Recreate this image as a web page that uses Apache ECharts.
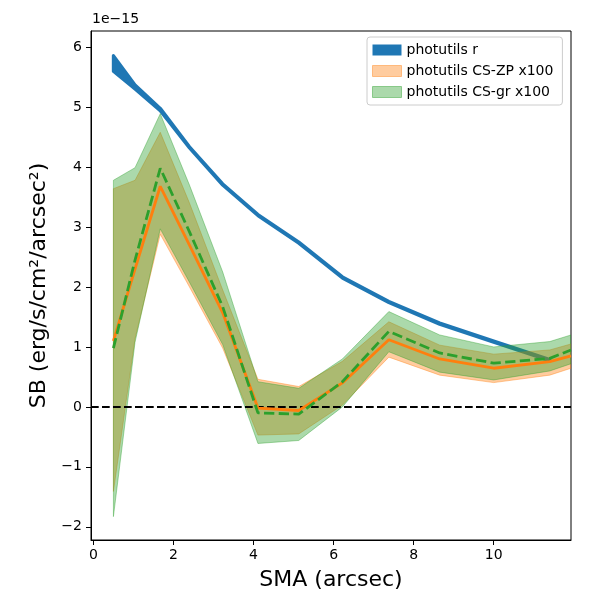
<!DOCTYPE html>
<html>
<head>
<meta charset="utf-8">
<script src="https://cdn.jsdelivr.net/npm/echarts@6/dist/echarts.min.js"></script>
<style>html,body{margin:0;padding:0;background:#fff}#c{width:600px;height:600px}</style>
</head>
<body>
<div id="c"></div>
<script>
// SMA positions (arcsec)
const smaR  = [0.5, 1.04, 1.67, 2.4, 3.23, 4.11, 5.13, 6.22, 7.38, 8.65, 10.0, 11.4];
const smaCS = [0.5, 1.04, 1.67, 2.4, 3.23, 4.11, 5.13, 6.22, 7.38, 8.65, 10.0, 11.4, 11.93];
// photutils r band (units of 1e-15)
const rHi = [5.86, 5.37, 4.98, 4.34, 3.72, 3.21, 2.75, 2.17, 1.76, 1.40, 1.10, 0.79];
const rLo = [5.60, 5.30, 4.94, 4.32, 3.70, 3.19, 2.73, 2.15, 1.74, 1.38, 1.08, 0.77];
// photutils CS-ZP x100
const zpMid = [1.10, 2.30, 3.68, 2.70, 1.57, -0.02, -0.06, 0.40, 1.12, 0.80, 0.645, 0.755, 0.85];
const zpHi  = [3.64, 3.78, 4.58, 3.40, 1.95, 0.46, 0.34, 0.76, 1.42, 1.03, 0.88, 0.95, 1.05];
const zpLo  = [-1.41, 1.14, 2.88, 2.00, 0.98, -0.47, -0.45, 0.03, 0.83, 0.53, 0.405, 0.53, 0.645];
// photutils CS-gr x100
const grMid = [0.98, 2.45, 3.98, 2.92, 1.67, -0.10, -0.12, 0.42, 1.26, 0.90, 0.73, 0.81, 0.95];
const grHi  = [3.78, 3.99, 4.89, 3.70, 2.25, 0.42, 0.31, 0.80, 1.59, 1.20, 1.00, 1.09, 1.20];
const grLo  = [-1.83, 1.08, 2.97, 2.08, 1.04, -0.61, -0.56, 0.00, 0.92, 0.58, 0.45, 0.60, 0.72];
// ticks
const xTicks = [0, 2, 4, 6, 8, 10];
const yTicks = [-2, -1, 0, 1, 2, 3, 4, 5, 6];

const FONT = 'DejaVu Sans';
function band(xs, hi, lo, fill, stroke, lw) {
  return function (params, api) {
    if (params.dataIndex !== 0) return;
    const pts = [];
    for (let i = 0; i < xs.length; i++) pts.push(api.coord([xs[i], hi[i]]));
    for (let i = xs.length - 1; i >= 0; i--) pts.push(api.coord([xs[i], lo[i]]));
    return {type: 'polygon', shape: {points: pts},
      style: {fill: fill, stroke: stroke, lineWidth: lw, lineJoin: 'round'}};
  };
}
const pairs = (xs, ys) => xs.map((x, i) => [x, ys[i]]);
const fmt = v => v < 0 ? '\u2212' + Math.abs(v) : String(v);

const chart = echarts.init(document.getElementById('c'), null, {renderer: 'canvas'});
chart.setOption({
  animation: false,
  backgroundColor: '#fff',
  textStyle: {fontFamily: FONT},
  grid: {left: 91, right: 29, top: 31, bottom: 60, show: true, borderColor: '#000', borderWidth: 1,
         containLabel: false, outerBoundsMode: 'none'},
  xAxis: {
    type: 'value', min: -0.06, max: 11.93,
    name: 'SMA (arcsec)', nameLocation: 'middle', nameGap: 29,
    nameTextStyle: {fontSize: 22, color: '#000', fontFamily: FONT},
    axisLine: {show: true, onZero: false, lineStyle: {color: '#000', width: 1}},
    axisTick: {show: true, length: 5, lineStyle: {color: '#000'}, customValues: xTicks},
    axisLabel: {color: '#000', fontSize: 14, margin: 8, fontFamily: FONT, customValues: xTicks, formatter: fmt},
    splitLine: {show: false}
  },
  yAxis: {
    type: 'value', min: -2.22, max: 6.27,
    name: 'SB (erg/s/cm²/arcsec²)', nameLocation: 'middle', nameGap: 40,
    nameTextStyle: {fontSize: 22, color: '#000', fontFamily: FONT},
    axisLine: {show: true, onZero: false, lineStyle: {color: '#000', width: 1}},
    axisTick: {show: true, length: 5, lineStyle: {color: '#000'}, customValues: yTicks},
    axisLabel: {color: '#000', fontSize: 14, margin: 9, fontFamily: FONT, customValues: yTicks, formatter: fmt},
    splitLine: {show: false}
  },
  legend: {
    orient: 'vertical', left: 367, top: 37,
    padding: [6, 9, 6, 5], itemGap: 7, itemWidth: 29, itemHeight: 11, itemTextGap: 11,
    backgroundColor: 'rgba(255,255,255,0.8)', borderColor: '#cccccc', borderWidth: 1, borderRadius: 3,
    textStyle: {fontSize: 14, color: '#000', fontFamily: FONT, lineHeight: 14},
    icon: 'rect',
    data: [
      {name: 'photutils r', itemStyle: {color: '#1f77b4'}},
      {name: 'photutils CS-ZP x100', itemStyle: {color: '#ffcc9f', borderColor: '#ffb97c', borderWidth: 1}},
      {name: 'photutils CS-gr x100', itemStyle: {color: '#abd9ab', borderColor: '#88c988', borderWidth: 1}}
    ]
  },
  graphic: [{type: 'text', left: 92, top: 12, style: {text: '1e\u221215', fontSize: 14, fontFamily: FONT, fill: '#000'}}],
  series: [
    {type: 'custom', name: 'photutils r', z: 2, itemStyle: {color: '#1f77b4'},
     renderItem: band(smaR, rHi, rLo, '#1f77b4', '#1f77b4', 3.2),
     data: [[smaR[0], rHi[0]]], encode: {x: 0, y: 1}, clip: true},
    {type: 'custom', name: 'photutils CS-ZP x100', z: 3, itemStyle: {color: '#ffcc9f'},
     renderItem: band(smaCS, zpHi, zpLo, 'rgba(255,127,14,0.4)', 'rgba(255,127,14,0.4)', 1),
     data: [[smaCS[0], zpHi[0]]], encode: {x: 0, y: 1}, clip: true},
    {type: 'custom', name: 'photutils CS-gr x100', z: 4, itemStyle: {color: '#abd9ab'},
     renderItem: band(smaCS, grHi, grLo, 'rgba(44,160,44,0.4)', 'rgba(44,160,44,0.4)', 1),
     data: [[smaCS[0], grHi[0]]], encode: {x: 0, y: 1}, clip: true},
    {type: 'line', name: 'zp-mid', z: 5, data: pairs(smaCS, zpMid), symbol: 'none', clip: true,
     lineStyle: {color: '#ff7f0e', width: 2.8}},
    {type: 'line', name: 'gr-mid', z: 6, data: pairs(smaCS, grMid), symbol: 'none', clip: true,
     lineStyle: {color: '#2ca02c', width: 2.8, type: [10.3, 4.4]},
     markLine: {silent: true, symbol: 'none', label: {show: false},
       lineStyle: {color: '#000', width: 2, type: [7.7, 3.3]},
       data: [{yAxis: 0}]}}
  ]
});
</script>
</body>
</html>
